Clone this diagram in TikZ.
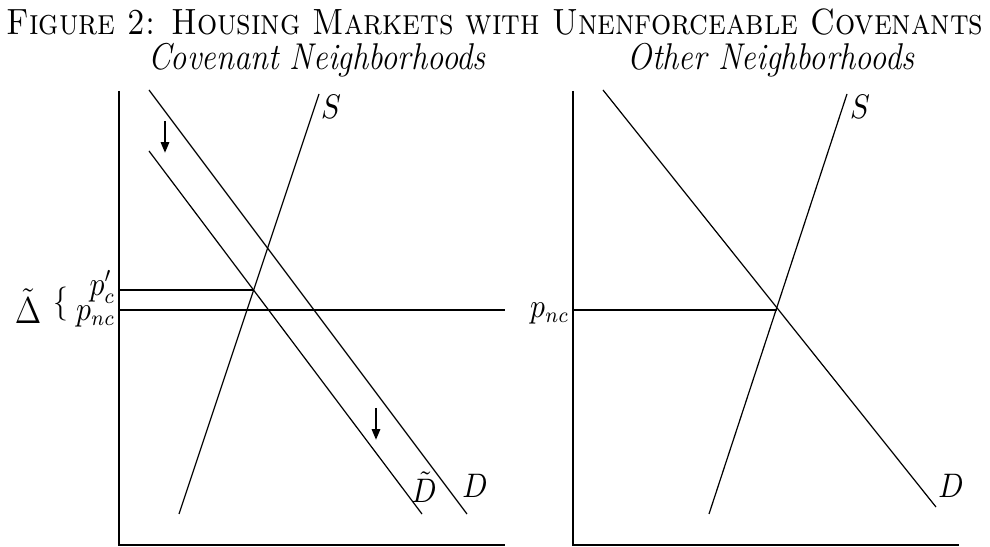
\documentclass[tikz,border=0pt]{standalone}
\usepackage{graphicx}
\usetikzlibrary{arrows.meta}
\newcommand{\vstr}[1]{\scalebox{1}[1.15]{#1}}
\begin{document}
\begin{tikzpicture}[x=0.37pt,y=-0.37pt,
  curve/.style={line width=0.45pt},
  axis/.style={line width=1.1pt},
  price/.style={line width=1.1pt},
  shiftarrow/.style={line width=0.9pt,-{Triangle[length=4pt,width=3pt]}},
  lbl/.style={inner sep=0pt,font=\fontsize{10.7}{12}\selectfont},
  ttl/.style={inner sep=0pt,font=\fontsize{11.75}{14}\selectfont\scshape},
  sub/.style={inner sep=0pt,font=\fontsize{12}{14}\selectfont\itshape}]
\useasboundingbox (0,0) rectangle (990,547);
% titles
\node[ttl] (title) at (495,22) {\vstr{Figure 2: Housing Markets with Unenforceable Covenants}};
\node[sub] (subL) at (317,60) {\vstr{Covenant Neighborhoods}};
\node[sub] (subR) at (771,60) {\vstr{Other Neighborhoods}};
% left axes
\coordinate (lTop) at (119,91);
\coordinate (lO) at (119,545);
\coordinate (lRight) at (505,545);
\draw[axis] (lTop) -- (lO) -- (lRight);
% left curves
\coordinate (lS1) at (179,514); \coordinate (lS2) at (319,94);
\coordinate (lD1) at (149,90); \coordinate (lD2) at (467,514);
\coordinate (lT1) at (149,151); \coordinate (lT2) at (422,514);
\draw[curve] (lS1) -- (lS2);
\draw[curve] (lD1) -- (lD2);
\draw[curve] (lT1) -- (lT2);
% price lines
\coordinate (lPc) at (119,290); \coordinate (lX) at (253,290);
\coordinate (lPn) at (119,310); \coordinate (lPnE) at (505,310);
\draw[price] (lPc) -- (lX);
\draw[price] (lPn) -- (lPnE);
% arrows
\coordinate (a1s) at (165,121); \coordinate (a1e) at (165,153);
\coordinate (a2s) at (376,408); \coordinate (a2e) at (376,440);
\draw[shiftarrow] (a1s) -- (a1e);
\draw[shiftarrow] (a2s) -- (a2e);
% left labels
\node[lbl] (lSl) at (331,107) {\vstr{$S$}};
\node[lbl] (lDl) at (475,486) {\vstr{$D$}};
\node[lbl] (lTl) at (424,487) {\vstr{$\tilde D$}};
\node[lbl,anchor=east] (pcl) at (116,287) {\vstr{$p'_c$}};
\node[lbl,anchor=east] (pnl) at (116,316) {\vstr{$p_{nc}$}};
\node[lbl] (brace) at (61,304) {\vstr{$\{$}};
\node[lbl,font=\fontsize{11.5}{13}\selectfont] (delta) at (28,306) {\vstr{$\tilde\Delta$}};
% right axes
\coordinate (rTop) at (573,91);
\coordinate (rO) at (573,545);
\coordinate (rRight) at (959,545);
\draw[axis] (rTop) -- (rO) -- (rRight);
\coordinate (rS1) at (709,514); \coordinate (rS2) at (847,94);
\coordinate (rD1) at (603,90); \coordinate (rD2) at (936,507);
\draw[curve] (rS1) -- (rS2);
\draw[curve] (rD1) -- (rD2);
\coordinate (rPn) at (573,310); \coordinate (rX) at (777,310);
\draw[price] (rPn) -- (rX);
\node[lbl] (rSl) at (860,107) {\vstr{$S$}};
\node[lbl] (rDl) at (951,486) {\vstr{$D$}};
\node[lbl,anchor=east] (rpnl) at (570,313) {\vstr{$p_{nc}$}};
\end{tikzpicture}
\end{document}
